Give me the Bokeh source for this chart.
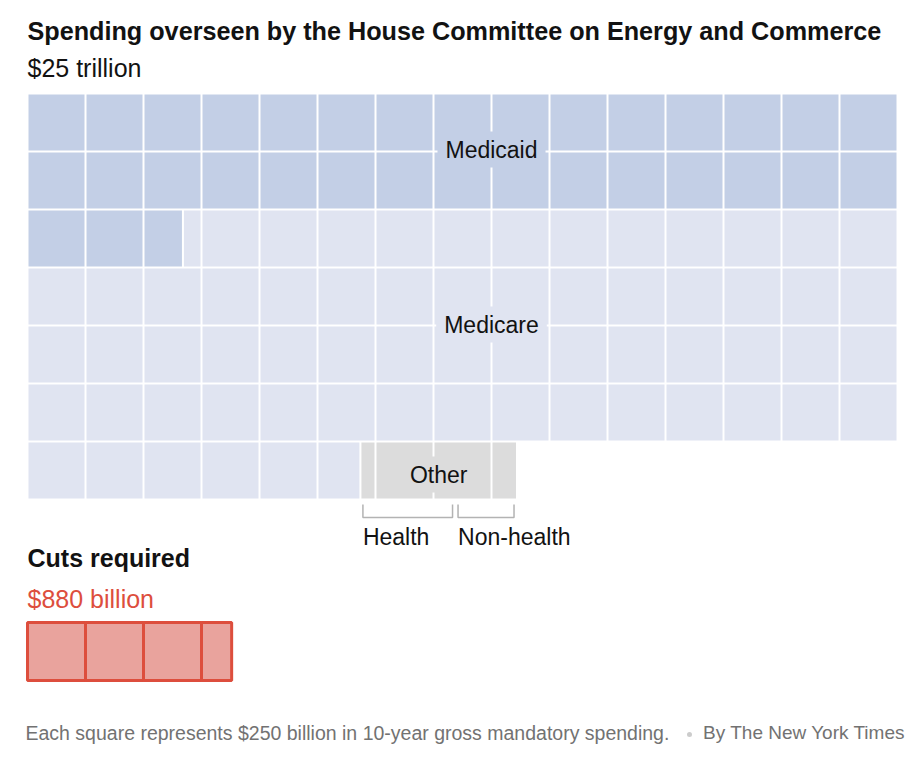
import math
from bokeh.plotting import figure
from bokeh.models import Range1d
from bokeh.core.properties import value
from bokeh.embed import file_html
from bokeh.resources import INLINE

# ---------------- data ----------------
title = "Spending overseen by the House Committee on Energy and Commerce"
total_label = "$25 trillion"
categories = ["Medicaid", "Medicare", "Health", "Non-health"]
groups = ["Medicaid", "Medicare", "Other", "Other"]
spending_billions = [8170, 15765, 410, 265]
square_value_billions = 250
cuts_title = "Cuts required"
cuts_label = "$880 billion"
cuts_billions = 880
footnote = "Each square represents $250 billion in 10-year gross mandatory spending."
byline = "By The New York Times"

# ---------------- layout / style ----------------
W, H = 908, 752
X0, Y0, S, NCOL = 27, 93, 58, 15
GAP = 1.0
TY = -8  # text baseline correction
FONT = value("Liberation Sans")
group_colors = {"Medicaid": "#c3cfe6", "Medicare": "#e0e4f1", "Other": "#dcdcdc"}
INK = "#121212"
RED_LINE = "#dd4e3d"
RED_FILL = "#e9a39d"

p = figure(width=W, height=H, x_range=Range1d(0, W), y_range=Range1d(H, 0),
           x_axis_type=None, y_axis_type=None, output_backend="svg",
           toolbar_location=None, min_border=0, background_fill_color="white",
           border_fill_color="white")
p.outline_line_color = None
p.grid.visible = False

# ---------------- waffle ----------------
units = [v / square_value_billions for v in spending_billions]
group_spans = []
cat_spans = []
start = 0.0
for cat, grp, u in zip(categories, groups, units):
    end = start + u
    cat_spans.append((cat, start, end))
    if group_spans and group_spans[-1][0] == grp:
        group_spans[-1] = (grp, group_spans[-1][1], end)
    else:
        group_spans.append((grp, start, end))
    start = end

L, R, T, B, C = [], [], [], [], []
for grp, s, e in group_spans:
    k = int(math.floor(s))
    while k < e - 1e-9:
        a = max(s, k)
        b = min(e, k + 1)
        row, col = divmod(k, NCOL)
        L.append(X0 + (col + a - k) * S + GAP)
        R.append(X0 + (col + b - k) * S - GAP)
        T.append(Y0 + row * S + GAP)
        B.append(Y0 + (row + 1) * S - GAP)
        C.append(group_colors[grp])
        k += 1
p.quad(left=L, right=R, top=T, bottom=B, fill_color=C, line_color=None)


def ux(u):
    row, col = divmod(u, NCOL)
    return X0 + col * S


# group labels with background
label_pos = {"Medicaid": (X0 + 8 * S, 157), "Medicare": (X0 + 8 * S, 332)}
for grp, s, e in group_spans:
    if grp in label_pos:
        x, y = label_pos[grp]
    else:
        x = (ux(s) + ux(e)) / 2
        y = 482
    p.text(x=[x], y=[y + TY], text=[grp], text_font=FONT, text_font_size="23px",
           text_color=INK, text_align="center", text_baseline="alphabetic",
           background_fill_color=group_colors[grp], padding=[8, 5])

# brackets + sub labels for "Other"
bx, by = [], []
for (cat, s, e), grp in zip(cat_spans, groups):
    if grp != "Other":
        continue
    x1, x2 = ux(s) + 2.5, ux(e) - 3
    bx.append([x1, x1, x2, x2])
    by.append([504, 517, 517, 504])
    p.text(x=[x1], y=[544 + TY], text=[cat], text_font=FONT, text_font_size="23px",
           text_color=INK, text_align="left", text_baseline="alphabetic")
p.multi_line(xs=bx, ys=by, line_color="#b3b3b3", line_width=1.5)

# ---------------- titles ----------------
p.text(x=[27], y=[38 + TY], text=[title], text_font=FONT, text_font_style="bold",
       text_font_size="25.2px", text_color=INK, text_baseline="alphabetic")
p.text(x=[27], y=[75 + TY], text=[total_label], text_font=FONT,
       text_font_size="25px", text_color=INK, text_baseline="alphabetic")

# ---------------- cuts ----------------
p.text(x=[27], y=[565 + TY], text=[cuts_title], text_font=FONT, text_font_style="bold",
       text_font_size="25px", text_color=INK, text_baseline="alphabetic")
p.text(x=[27], y=[606 + TY], text=[cuts_label], text_font=FONT,
       text_font_size="25px", text_color=RED_LINE, text_baseline="alphabetic")
cu = cuts_billions / square_value_billions
cl = [X0 + k * S for k in range(int(math.ceil(cu)))]
cr = [X0 + min(cu, k + 1) * S for k in range(int(math.ceil(cu)))]
p.quad(left=cl, right=cr, top=[622] * len(cl), bottom=[680] * len(cl),
       fill_color=RED_FILL, line_color=RED_LINE, line_width=3)

# ---------------- footer ----------------
p.text(x=[25], y=[740 + TY], text=[footnote], text_font=FONT, text_font_size="19.5px",
       text_color="#727272", text_baseline="alphabetic")
p.scatter(x=[689], y=[734], size=5, marker="circle", fill_color="#cccccc", line_color=None)
p.text(x=[905], y=[740 + TY], text=[byline], text_font=FONT, text_font_size="19px",
       text_color="#727272", text_align="right", text_baseline="alphabetic")

open("out.html", "w").write(file_html(p, INLINE))
